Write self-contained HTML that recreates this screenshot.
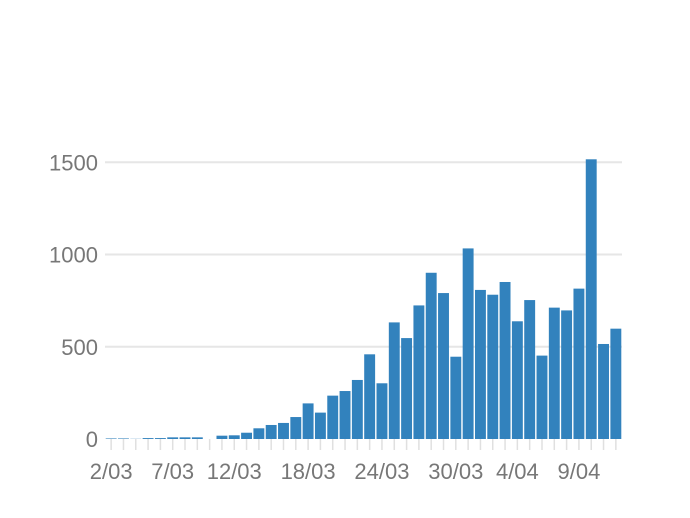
<!DOCTYPE html>
<html><head><meta charset="utf-8"><style>
html,body{margin:0;padding:0;background:#fff;width:690px;height:518px;overflow:hidden}
svg text{font-family:"Liberation Sans",sans-serif;fill:#777}
</style></head><body>
<svg id="chart" width="690" height="518" xmlns="http://www.w3.org/2000/svg"></svg>
<script>
const categories=["2/03","3/03","4/03","5/03","6/03","7/03","8/03","9/03","10/03","11/03","12/03","13/03","14/03","15/03","16/03","17/03","18/03","19/03","20/03","21/03","22/03","23/03","24/03","25/03","26/03","27/03","28/03","29/03","30/03","31/03","1/04","2/04","3/04","4/04","5/04","6/04","7/04","8/04","9/04","10/04","11/04","12/04"];
const values=[3,3,1,5,5,9,9,9,0,18,20,34,58,76,87,119,193,143,235,260,320,459,302,632,547,724,901,791,446,1033,808,782,851,638,753,452,712,697,815,1516,515,598];
const yTicks=[0,500,1000,1500];
const xTickLabels=["2/03","7/03","12/03","18/03","24/03","30/03","4/04","9/04"];
const NS="http://www.w3.org/2000/svg";
const svg=document.getElementById('chart');
const x0=105,x1=622,base=439,pxPerUnit=0.1845;
const step=(x1-x0)/categories.length;
const y=v=>base-v*pxPerUnit;
const xc=i=>x0+step*(i+0.5);
function mk(t,a){const e=document.createElementNS(NS,t);for(const k in a)e.setAttribute(k,a[k]);svg.appendChild(e);return e;}
yTicks.forEach(v=>{
  if(v>0){const g=mk('line',{x1:x0,x2:x1,y1:y(v),y2:y(v),stroke:'#e6e6e6','stroke-width':2});
  
  }
  const t=mk('text',{x:98,y:y(v)+8,'text-anchor':'end','font-size':22});
  t.textContent=v;
  
  
});
categories.forEach((c,i)=>{
  const tk=mk('line',{x1:xc(i),x2:xc(i),y1:base,y2:base+11,stroke:'#e0e0e0','stroke-width':1.5});
  
  
});
values.forEach((v,i)=>{
  const h=v*pxPerUnit;
  const r=mk('rect',{x:x0+step*i+0.7,y:base-h,width:step-1.4,height:h,fill:'#3282bd'});
  
  
});
xTickLabels.forEach(l=>{
  const i=categories.indexOf(l);
  const t=mk('text',{x:xc(i),y:479,'text-anchor':'middle','font-size':22});
  t.textContent=l;
  
  
});
</script>
</body></html>
